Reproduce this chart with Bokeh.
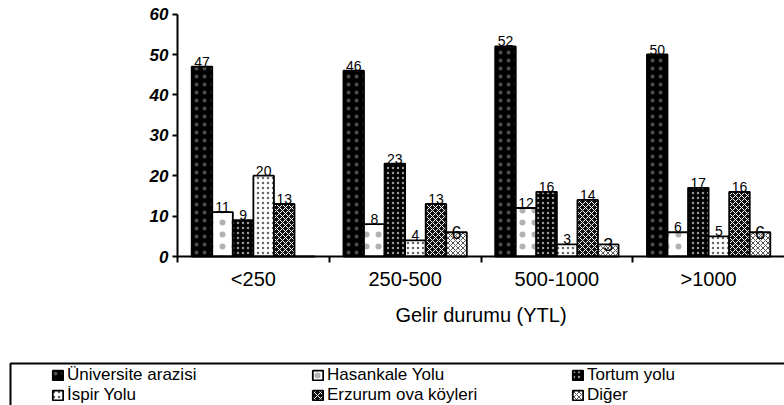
from bokeh.plotting import figure
from bokeh.models import (ColumnDataSource, Range1d, FixedTicker, Legend, LegendItem,
                          BoxAnnotation, LinearAxis)
from bokeh.transform import dodge
from bokeh.core.properties import value
from bokeh.embed import file_html
from bokeh.resources import INLINE

# ---- data ----
categories = ["<250", "250-500", "500-1000", ">1000"]
series_names = ["Üniversite arazisi", "Hasankale Yolu", "Tortum yolu",
                "İspir Yolu", "Erzurum ova köyleri", "Diğer"]
universite = [47, 46, 52, 50]
hasankale = [11, 8, 12, 6]
tortum = [9, 23, 16, 17]
ispir = [20, 4, 3, 5]
erzurum = [13, 13, 14, 16]
diger = [0, 6, 3, 6]
y_ticks = [0, 10, 20, 30, 40, 50, 60]
x_title = "Gelir durumu (YTL)"

FONT = "Liberation Sans"
W, H = 784, 405
CAT_PX = 151.75      # pixels per category
Y_PX = 4.04          # pixels per unit
X0_PX, YTOP_PX = 177, 13.6

x_start = -X0_PX / CAT_PX
x_end = x_start + W / CAT_PX
y_top = 60 + YTOP_PX / Y_PX
y_bot = y_top - H / Y_PX

p = figure(width=W, height=H, output_backend="svg", toolbar_location=None,
           x_range=Range1d(x_start, x_end), y_range=Range1d(y_bot, y_top),
           min_border=0, x_axis_type=None, y_axis_type=None)
p.outline_line_color = None
p.grid.visible = False

# y axis
yaxis = LinearAxis(ticker=FixedTicker(ticks=y_ticks, minor_ticks=[]),
                   fixed_location=0, bounds=(0, 60))
yaxis.major_label_text_font = FONT
yaxis.major_label_text_font_size = "17px"
yaxis.major_label_text_font_style = "bold italic"
yaxis.major_label_text_color = "black"
yaxis.major_tick_in = 0
yaxis.major_tick_out = 5
yaxis.major_tick_line_width = 2
yaxis.minor_tick_line_color = None
yaxis.axis_line_width = 2
yaxis.major_label_standoff = 4
p.add_layout(yaxis, "left")

# x axis
centers = [i + 0.5 for i in range(len(categories))]
bounds = list(range(len(categories) + 1))
xaxis = LinearAxis(ticker=FixedTicker(ticks=centers, minor_ticks=bounds),
                   major_label_overrides={c: lab for c, lab in zip(centers, categories)},
                   fixed_location=0, bounds=(0, x_end))
xaxis.major_tick_line_color = None
xaxis.major_tick_in = 0
xaxis.major_tick_out = 0
xaxis.minor_tick_in = 0
xaxis.minor_tick_out = 6
xaxis.minor_tick_line_width = 2
xaxis.minor_tick_line_color = "black"
xaxis.axis_line_width = 2
xaxis.major_label_text_font = FONT
xaxis.major_label_text_font_size = "20px"
xaxis.major_label_text_color = "black"
xaxis.major_label_standoff = 5
xaxis.axis_label = x_title
xaxis.axis_label_text_font = FONT
xaxis.axis_label_text_font_size = "20px"
xaxis.axis_label_text_font_style = "normal"
xaxis.axis_label_text_color = "black"
xaxis.axis_label_standoff = 11
p.add_layout(xaxis, "below")

keys = ["universite", "hasankale", "tortum", "ispir", "erzurum", "diger"]
series = [universite, hasankale, tortum, ispir, erzurum, diger]
data = dict(x=centers)
for k, s in zip(keys, series):
    data[k] = s
    data[k + "_lbl"] = [str(v) if v else "" for v in s]
source = ColumnDataSource(data)

styles = [
    dict(fill_color="black", hatch_pattern="dot", hatch_color="white", hatch_scale=8,
         hatch_weight=0.3, hatch_alpha=0.3),
    dict(fill_color="white", hatch_pattern="dot", hatch_color="black", hatch_scale=12,
         hatch_weight=0.3, hatch_alpha=0.3),
    dict(fill_color="black", hatch_pattern="dot", hatch_color="white", hatch_scale=5,
         hatch_weight=0.3, hatch_alpha=0.6),
    dict(fill_color="white", hatch_pattern="dot", hatch_color="black", hatch_scale=5,
         hatch_weight=0.3, hatch_alpha=0.6),
    dict(fill_color="#111111", hatch_pattern="diagonal_cross", hatch_color="white", hatch_scale=6, hatch_weight=1),
    dict(fill_color="white", hatch_pattern="diagonal_cross", hatch_color="#555555", hatch_scale=5, hatch_weight=1),
]

bar_w = 0.1355
renderers = []
for i, (k, st) in enumerate(zip(keys, styles)):
    off = (i - 2.5) * bar_w
    r = p.vbar(x=dodge("x", off, range=p.x_range), top=k, width=bar_w, bottom=0,
               source=source, line_color="black", line_width=1.8, **st)
    renderers.append(r)
    if k == "diger":
        p.text(x=dodge("x", off, range=p.x_range), y=k, text=k + "_lbl", source=source,
               text_font=value(FONT), text_font_size="18px", text_align="center",
               text_baseline="middle", text_color="black")
    else:
        p.text(x=dodge("x", off, range=p.x_range), y=k, text=k + "_lbl", source=source,
               text_font=value(FONT), text_font_size="14px", text_align="center",
               text_baseline="bottom", text_color="black")

items = [LegendItem(label=n, renderers=[r]) for n, r in zip(series_names, renderers)]
legend = Legend(items=items, orientation="horizontal", ncols=3, location=(51, 0))
legend.glyph_width = 13
legend.glyph_height = 12
legend.label_standoff = 3
legend.label_width = 244
legend.label_height = 14
legend.spacing = 0
legend.padding = 2
legend.margin = 0
legend.label_text_font = FONT
legend.label_text_font_size = "17px"
legend.label_text_color = "black"
legend.border_line_color = None
legend.background_fill_alpha = 0
p.add_layout(legend, "center")

box = BoxAnnotation(left=10, right=W + 20, top=H - 363, bottom=-20,
                    left_units="screen", right_units="screen",
                    top_units="screen", bottom_units="screen",
                    fill_alpha=0, line_color="black", line_width=2, line_alpha=1)
p.add_layout(box)

open("out.html", "w").write(file_html(p, INLINE))
